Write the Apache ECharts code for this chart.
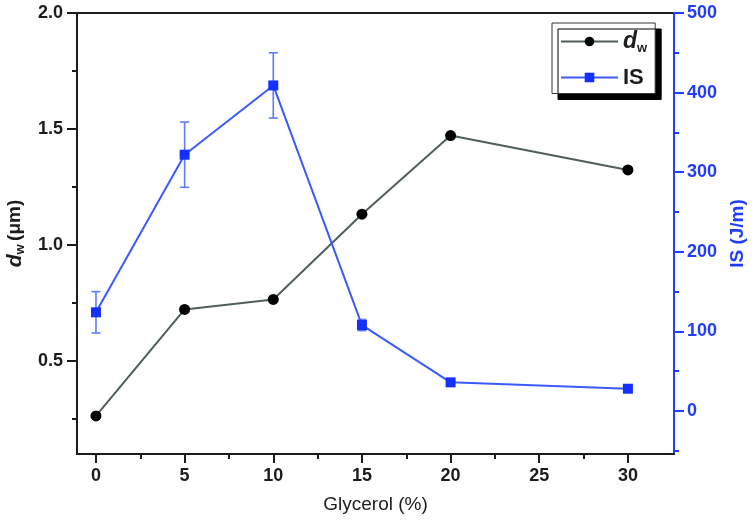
<!DOCTYPE html>
<html>
<head>
<meta charset="utf-8">
<script src="https://cdn.jsdelivr.net/npm/echarts@6/dist/echarts.min.js"></script>
<style>
  html, body { margin: 0; padding: 0; background: #fff; }
  #chart { width: 756px; height: 523px; }
</style>
</head>
<body>
<div id="chart"></div>
<script>
// values
const glycerol = [0, 5, 10, 15, 20, 30];
const dw = [0.264, 0.723, 0.766, 1.133, 1.472, 1.324];
const impact = [124, 322, 409, 108, 36, 28];
const impactErr = [26, 41, 41, 7, 3, 3];

// axis ticks
const xTicks = [0, 5, 10, 15, 20, 25, 30];
const xMinor = [2.5, 7.5, 12.5, 17.5, 22.5, 27.5];
const dwTicks = [0.5, 1.0, 1.5, 2.0];
const dwMinor = [0.25, 0.75, 1.25, 1.75];
const isTicks = [0, 100, 200, 300, 400, 500];
const isMinor = [-50, 50, 150, 250, 350, 450];

const BLACK = "#1c1c1c";
const BLUE = "#1f3cff";
const FONT = "Liberation Sans";

const chart = echarts.init(document.getElementById("chart"));

const xRange = { min: -1.07, max: 32.6 };
const dwRange = { min: 0.1, max: 2.0 };
const isRange = { min: -54, max: 500 };

const option = {
  animation: false,
  grid: {
    left: 77,
    right: 82,
    top: 13,
    bottom: 69,
    show: true,
    borderColor: BLACK,
    borderWidth: 2,
    outerBoundsMode: "none",
  },
  legend: {
    data: ["dw", "IS"],
    orient: "vertical",
    left: 552,
    top: 23,
    backgroundColor: "#fff",
    borderColor: "#333",
    borderWidth: 1,
    borderRadius: 0,
    shadowColor: "#000",
    shadowBlur: 0,
    shadowOffsetX: 6,
    shadowOffsetY: 6,
    padding: [7, 8, 5, 8],
    itemWidth: 57,
    itemHeight: 12,
    itemGap: 12,
    formatter: (name) => (name === "dw" ? "{d|d}{w|w}" : "{n|IS}"),
    textStyle: {
      rich: {
        d: { fontFamily: FONT, fontSize: 23, fontWeight: "bold", fontStyle: "italic", color: BLACK, lineHeight: 26 },
        w: { fontFamily: FONT, fontSize: 13, fontWeight: "bold", color: BLACK, verticalAlign: "bottom", lineHeight: 26 },
        n: { fontFamily: FONT, fontSize: 22, fontWeight: "bold", color: BLACK, lineHeight: 26 },
      },
    },
  },
  xAxis: [
    {
      type: "value",
      ...xRange,
      position: "bottom",
      name: "Glycerol (%)",
      nameLocation: "middle",
      nameGap: 41,
      nameTextStyle: { fontFamily: FONT, fontSize: 19, color: BLACK },
      axisLine: { onZero: false, lineStyle: { color: BLACK, width: 2 } },
      axisTick: { customValues: xTicks, length: 9, lineStyle: { color: BLACK, width: 2 } },
      axisLabel: {
        customValues: xTicks,
        margin: 13,
        fontFamily: FONT,
        fontSize: 18,
        fontWeight: "bold",
        color: BLACK,
      },
      splitLine: { show: false },
    },
    {
      type: "value",
      ...xRange,
      position: "bottom",
      axisLine: { show: false, onZero: false },
      axisTick: { customValues: xMinor, length: 5, lineStyle: { color: BLACK, width: 2 } },
      axisLabel: { show: false },
      splitLine: { show: false },
    },
  ],
  yAxis: [
    {
      type: "value",
      ...dwRange,
      position: "left",
      name: "{d|d}{w|w} {n|(μm)}",
      nameLocation: "middle",
      nameRotate: 90,
      nameGap: 49,
      nameTextStyle: {
        rich: {
          d: { fontFamily: FONT, fontSize: 21, fontWeight: "bold", fontStyle: "italic", color: BLACK, lineHeight: 24 },
          w: { fontFamily: FONT, fontSize: 13, fontWeight: "bold", color: BLACK, verticalAlign: "bottom", lineHeight: 24 },
          n: { fontFamily: FONT, fontSize: 19, fontWeight: "bold", color: BLACK, lineHeight: 24 },
        },
      },
      axisLine: { show: true, onZero: false, lineStyle: { color: BLACK, width: 2 } },
      axisTick: { show: true, customValues: dwTicks, length: 10, lineStyle: { color: BLACK, width: 2 } },
      axisLabel: {
        customValues: dwTicks,
        margin: 14,
        fontFamily: FONT,
        fontSize: 18,
        fontWeight: "bold",
        color: BLACK,
        formatter: (v) => v.toFixed(1),
      },
      splitLine: { show: false },
    },
    {
      type: "value",
      ...dwRange,
      position: "left",
      axisLine: { show: false, onZero: false },
      axisTick: { show: true, customValues: dwMinor, length: 5, lineStyle: { color: BLACK, width: 2 } },
      axisLabel: { show: false },
      splitLine: { show: false },
    },
    {
      type: "value",
      ...isRange,
      position: "right",
      name: "IS (J/m)",
      nameLocation: "middle",
      nameRotate: 90,
      nameGap: 52,
      nameTextStyle: { fontFamily: FONT, fontSize: 19, fontWeight: "bold", color: BLUE },
      axisLine: { show: true, onZero: false, lineStyle: { color: BLUE, width: 2 } },
      axisTick: { show: true, customValues: isTicks, length: 10, lineStyle: { color: BLUE, width: 2 } },
      axisLabel: {
        customValues: isTicks,
        margin: 13,
        fontFamily: FONT,
        fontSize: 18,
        fontWeight: "bold",
        color: BLUE,
      },
      splitLine: { show: false },
    },
    {
      type: "value",
      ...isRange,
      position: "right",
      axisLine: { show: false, onZero: false },
      axisTick: { show: true, customValues: isMinor, length: 5, lineStyle: { color: BLUE, width: 2 } },
      axisLabel: { show: false },
      splitLine: { show: false },
    },
  ],
  series: [
    {
      name: "IS error",
      type: "custom",
      xAxisIndex: 0,
      yAxisIndex: 2,
      encode: { x: 0, y: [1, 2] },
      data: glycerol.map((g, i) => [g, impact[i] - impactErr[i], impact[i] + impactErr[i]]),
      renderItem: (params, api) => {
        const x = api.value(0);
        const lo = api.coord([x, api.value(1)]);
        const hi = api.coord([x, api.value(2)]);
        const cap = 4.5;
        const style = { stroke: "#5f7bff", lineWidth: 1.6, fill: null };
        return {
          type: "group",
          children: [
            { type: "line", shape: { x1: lo[0], y1: lo[1], x2: hi[0], y2: hi[1] }, style },
            { type: "line", shape: { x1: lo[0] - cap, y1: lo[1], x2: lo[0] + cap, y2: lo[1] }, style },
            { type: "line", shape: { x1: hi[0] - cap, y1: hi[1], x2: hi[0] + cap, y2: hi[1] }, style },
          ],
        };
      },
      z: 2,
    },
    {
      name: "dw",
      type: "line",
      xAxisIndex: 0,
      yAxisIndex: 0,
      data: glycerol.map((g, i) => [g, dw[i]]),
      symbol: "circle",
      symbolSize: 11,
      showAllSymbol: true,
      itemStyle: { color: "#000" },
      lineStyle: { color: "#4f5d5d", width: 2 },
      z: 3,
    },
    {
      name: "IS",
      type: "line",
      xAxisIndex: 0,
      yAxisIndex: 2,
      data: glycerol.map((g, i) => [g, impact[i]]),
      symbol: "rect",
      symbolSize: 10,
      showAllSymbol: true,
      itemStyle: { color: "#1430ff" },
      lineStyle: { color: "#3a5aff", width: 2 },
      z: 4,
    },
  ],
};

chart.setOption(option);
</script>
</body>
</html>
